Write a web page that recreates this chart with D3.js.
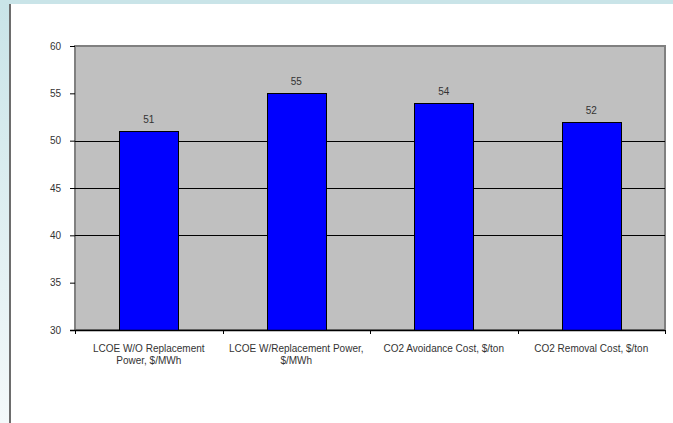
<!DOCTYPE html>
<html lang="en">
<head>
  <meta charset="utf-8">
  <title>LCOE and CO2 cost</title>
  <style>
    html,body { margin:0; padding:0; background:#fff; }
    svg { display:block; }
    text { font-family: "Liberation Sans", Arial, sans-serif; fill:#333; }
  </style>
  <script src="https://d3js.org/d3.v7.min.js"></script>
</head>
<body>
<svg width="673" height="423"></svg>
<script>
// chart data
const categories = [
  ["LCOE W/O Replacement", "Power, $/MWh"],
  ["LCOE W/Replacement Power,", "$/MWh"],
  ["CO2 Avoidance Cost, $/ton"],
  ["CO2 Removal Cost, $/ton"]
];
const values = [51, 55, 54, 52];
const yTicks = [30, 35, 40, 45, 50, 55, 60];
const gridValues = [40, 45, 50];

const W = 673, H = 423;
const plot = {left: 75, top: 46, right: 665, bottom: 330};

const svg = d3.select("svg");

// slide frame: blue band top and left, gray rule
const grad = svg.append("defs").append("linearGradient")
  .attr("id", "side").attr("x1", 0).attr("y1", 0).attr("x2", 0).attr("y2", 1);
grad.append("stop").attr("offset", "0%").attr("stop-color", "#c9e4e8");
grad.append("stop").attr("offset", "100%").attr("stop-color", "#f4f9fa");
svg.append("rect").attr("x", 0).attr("y", 0).attr("width", W).attr("height", 4).attr("fill", "#c9e4e8");
svg.append("rect").attr("x", 0).attr("y", 4).attr("width", 9).attr("height", H - 4).attr("fill", "url(#side)");
svg.append("rect").attr("x", 9).attr("y", 4).attr("width", 2).attr("height", H - 4).attr("fill", "#6d6d6d");

const x = d3.scaleBand()
  .domain(d3.range(categories.length))
  .range([plot.left, plot.right])
  .paddingInner(0.6).paddingOuter(0.3);
const xb = d3.scaleBand()
  .domain(d3.range(categories.length))
  .range([plot.left, plot.right]);
const y = d3.scaleLinear().domain([30, 60]).range([plot.bottom, plot.top]);

// plot area
svg.append("rect")
  .attr("x", plot.left).attr("y", plot.top)
  .attr("width", plot.right - plot.left).attr("height", plot.bottom - plot.top)
  .attr("fill", "#c0c0c0").attr("stroke", "#808080").attr("stroke-width", 2);

// gridlines
svg.append("g").selectAll("line").data(gridValues).join("line")
  .attr("x1", plot.left).attr("x2", plot.right)
  .attr("y1", d => Math.round(y(d)) + 0.5).attr("y2", d => Math.round(y(d)) + 0.5)
  .attr("stroke", "#000").attr("stroke-width", 1);

// bars
svg.append("g").selectAll("rect").data(values).join("rect")
  .attr("x", (d, i) => Math.round(x(i)) + 0.5)
  .attr("y", d => Math.round(y(d)) + 0.5)
  .attr("width", x.bandwidth())
  .attr("height", d => y(30) - Math.round(y(d)))
  .attr("fill", "#0000ff").attr("stroke", "#000").attr("stroke-width", 1);

// value labels
svg.append("g").selectAll("text").data(values).join("text")
  .attr("x", (d, i) => x(i) + x.bandwidth() / 2)
  .attr("y", d => y(d) - 8)
  .attr("text-anchor", "middle").attr("font-size", 10)
  .text(d => d);

// y axis
const yAxis = svg.append("g")
  .attr("transform", `translate(${plot.left},0)`)
  .call(d3.axisLeft(y).tickValues(yTicks).tickSize(5).tickPadding(9));
yAxis.select(".domain").remove();
yAxis.selectAll("line").attr("stroke", "#000");
yAxis.selectAll("text").attr("font-size", 10).style("font-family", "Liberation Sans, Arial, sans-serif").attr("fill", "#333");

// x axis line and ticks between categories
svg.append("line")
  .attr("x1", plot.left - 5).attr("x2", plot.right)
  .attr("y1", plot.bottom + 0.5).attr("y2", plot.bottom + 0.5)
  .attr("stroke", "#000").attr("stroke-width", 1.5);
const bounds = d3.range(categories.length + 1).map(i => i < categories.length ? xb(i) : plot.right);
svg.append("g").selectAll("line").data(bounds).join("line")
  .attr("x1", d => Math.round(d) + 0.5).attr("x2", d => Math.round(d) + 0.5)
  .attr("y1", plot.bottom).attr("y2", plot.bottom + 4)
  .attr("stroke", "#000");

// category labels
const cl = svg.append("g").selectAll("text").data(categories).join("text")
  .attr("x", (d, i) => xb(i) + xb.bandwidth() / 2)
  .attr("y", plot.bottom + 22)
  .attr("text-anchor", "middle").attr("font-size", 10);
cl.selectAll("tspan").data(d => d).join("tspan")
  .attr("x", function () { return this.parentNode.getAttribute("x"); })
  .attr("dy", (d, i) => i === 0 ? 0 : 12)
  .text(d => d);
</script>
</body>
</html>
